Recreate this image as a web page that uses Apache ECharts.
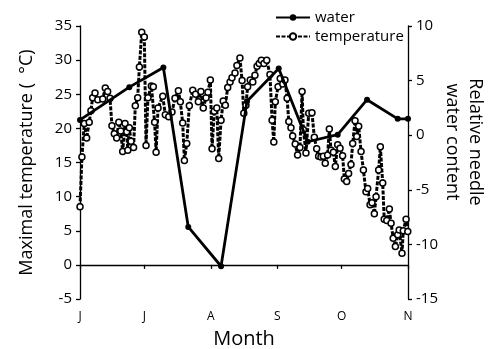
<!DOCTYPE html>
<html>
<head>
<meta charset="utf-8">
<script src="https://cdn.jsdelivr.net/npm/echarts@6/dist/echarts.min.js"></script>
<style>
  html, body { margin: 0; padding: 0; background: #fff; }
  #chart { width: 489px; height: 349px; }
</style>
</head>
<body>
<div id="chart"></div>
<script>
// x positions are days counted from 1 June
const monthDays = [0, 30, 61, 92, 122, 153];
const monthLabels = ['J', 'J', 'A', 'S', 'O', 'N'];

// relative needle water content (right axis)
const waterDays = [0, 23, 38.9, 50.5, 65.8, 77.9, 92.7, 106.2, 120.2, 133.9, 148.2, 153];
const waterValues = [1.4, 4.4, 6.2, -8.4, -12.0, 3.1, 6.1, -0.6, 0.05, 3.25, 1.5, 1.5];

// maximal temperature (left axis)
const tempDays = [
  0, 0.9, 2.0, 3.1, 4.3, 5.1, 5.9, 7.0, 8.3, 10.6, 11.8, 12.9, 14.0, 14.9, 16.0, 17.1,
  18.1, 19.0, 19.9, 21.0, 21.8, 22.3, 23.0, 23.8, 25.0, 25.8, 26.9, 27.7, 28.8, 30.0,
  30.8, 31.7, 33.3, 34.2, 34.8, 35.5, 36.4, 38.6, 39.8, 41.4, 42.9, 44.3, 45.9, 46.8,
  47.9, 48.7, 49.8, 51.0, 52.6, 53.9, 55.2, 56.4, 57.5, 58.8, 59.7, 60.8, 61.6, 62.6,
  63.8, 64.7, 65.8, 66.8, 67.8, 68.9, 70.0, 70.9, 72.3, 73.2, 74.6, 75.6, 76.4, 77.4,
  78.2, 79.4, 80.6, 81.6, 82.6, 83.6, 84.6, 85.8, 87.1, 88.6, 89.6, 90.4, 91.1, 92.4,
  93.4, 94.6, 95.6, 96.6, 97.4, 98.4, 99.2, 100.4, 101.5, 102.6, 103.6, 104.2, 105.4,
  106.7, 108.2, 109.3, 110.4, 111.3, 112.4, 113.5, 114.4, 115.5, 116.3, 117.1, 118.2,
  119.1, 120.2, 121.3, 122.5, 123.3, 124.4, 125.3, 126.4, 127.2, 128.3, 129.1, 130.0,
  131.1, 132.2, 133.4, 134.2, 135.3, 136.2, 137.3, 138.1, 139.3, 140.1, 141.2, 141.9,
  143.1, 144.3, 145.1, 146.1, 147.1, 148.2, 148.9, 150.2, 150.8, 152.1, 152.9
];
const tempValues = [
  8.5, 15.8, 20.7, 18.6, 20.9, 22.6, 24.5, 25.2, 24.2, 24.3, 25.9, 25.4, 24.4, 20.4, 19.2, 18.6,
  20.9, 19.6, 16.6, 20.7, 19.5, 16.8, 20.1, 18.1, 17.2, 23.3, 24.5, 29.0, 34.1, 33.4,
  17.5, 24.5, 26.2, 26.1, 20.9, 16.5, 23.0, 24.7, 22.0, 21.7, 22.4, 24.4, 25.5, 23.9,
  20.8, 15.3, 17.8, 23.3, 25.6, 25.0, 23.9, 25.4, 23.0, 24.5, 25.3, 27.1, 17.0, 22.5,
  23.0, 15.6, 21.2, 24.0, 23.4, 26.0, 26.8, 27.4, 28.1, 29.2, 30.3, 27.0, 22.2, 23.4,
  26.1, 27.1, 26.8, 27.8, 29.1, 29.5, 30.0, 29.5, 30.0, 27.9, 21.2, 18.0, 23.9, 26.1,
  27.3, 26.5, 27.1, 24.4, 21.0, 20.1, 18.9, 17.7, 16.1, 17.2, 25.4, 19.8, 16.4,
  22.2, 22.3, 18.7, 17.0, 15.9, 15.8, 15.9, 14.9, 16.1, 19.9, 16.8, 16.5,
  14.4, 17.6, 17.1, 16.0, 12.6, 12.2, 13.4, 14.7, 17.8, 21.1, 18.8, 20.3,
  16.6, 13.9, 10.7, 11.2, 8.8, 9.1, 7.5, 10.0, 13.9, 17.3, 12.0, 6.7,
  6.5, 8.2, 6.1, 3.9, 2.7, 4.4, 5.1, 1.7, 5.0, 6.7, 4.9
];

const FONT = 'Open Sans';
const chart = echarts.init(document.getElementById('chart'));

const axisCommon = {
  axisLine: { show: true, lineStyle: { color: '#000', width: 1.3 } },
  axisTick: { show: true, length: 4, lineStyle: { color: '#000', width: 1.3 } },
  axisLabel: { color: '#000', fontSize: 15, fontFamily: FONT },
  splitLine: { show: false },
  nameTextStyle: { color: '#000', fontSize: 18, fontFamily: FONT },
};

chart.setOption({
  animation: false,
  backgroundColor: '#fff',
  grid: { left: 80, right: 81, top: 26, bottom: 50, outerBoundsMode: 'none' },
  legend: {
    data: ['water', 'temperature'],
    orient: 'vertical',
    left: 270,
    top: 5,
    itemWidth: 34,
    itemHeight: 8,
    itemGap: 4,
    textStyle: { color: '#000', fontSize: 15, fontFamily: FONT },
  },
  // right axis title, placed a little above the axis middle as in the original
  graphic: [
    {
      type: 'text',
      x: 464,
      y: 142,
      rotation: -Math.PI / 2,
      style: {
        text: 'Relative needle\nwater content',
        align: 'center',
        verticalAlign: 'middle',
        fill: '#000',
        fontSize: 18,
        fontFamily: FONT,
        lineHeight: 23,
      },
    },
  ],
  xAxis: {
    ...axisCommon,
    type: 'value',
    min: 0,
    max: 153,
    name: 'Month',
    nameLocation: 'middle',
    nameGap: 30,
    nameTextStyle: { color: '#000', fontSize: 20, fontFamily: FONT },
    axisTick: { ...axisCommon.axisTick, customValues: monthDays },
    axisLabel: {
      ...axisCommon.axisLabel,
      fontSize: 12,
      margin: 12,
      customValues: monthDays,
      formatter: (v) => monthLabels[monthDays.indexOf(v)],
    },
  },
  yAxis: [
    {
      ...axisCommon,
      type: 'value',
      min: -5,
      max: 35,
      interval: 5,
      name: 'Maximal temperature (  °C)',
      nameLocation: 'middle',
      nameGap: 44,
    },
    {
      ...axisCommon,
      type: 'value',
      position: 'right',
      min: -15,
      max: 10,
      interval: 5,
    },
  ],
  series: [
    {
      name: 'temperature',
      type: 'line',
      yAxisIndex: 0,
      data: tempDays.map((d, i) => [d, tempValues[i]]),
      symbol: 'circle',
      symbolSize: 6,
      itemStyle: { color: '#fff', borderColor: '#000', borderWidth: 1.5 },
      lineStyle: { color: '#000', width: 3, type: [4, 1.5] },
      z: 2,
    },
    {
      name: 'water',
      type: 'line',
      yAxisIndex: 1,
      data: waterDays.map((d, i) => [d, waterValues[i]]),
      symbol: 'circle',
      symbolSize: 6,
      itemStyle: { color: '#000' },
      lineStyle: { color: '#000', width: 2.8 },
      z: 3,
    },
  ],
});
</script>
</body>
</html>
